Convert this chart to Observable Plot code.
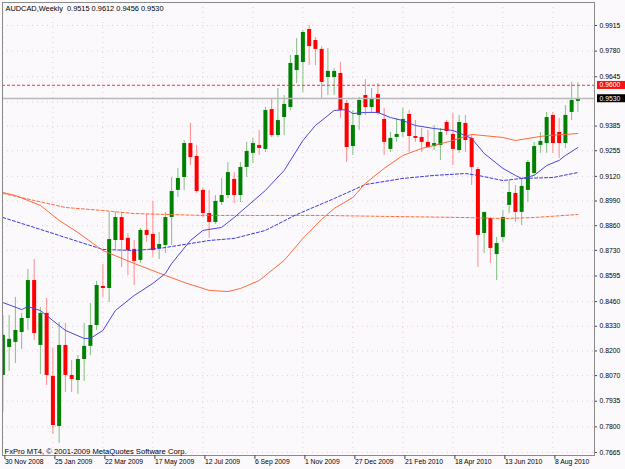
<!DOCTYPE html>
<html><head><meta charset="utf-8">
<script src="https://cdn.jsdelivr.net/npm/d3@7"></script>
<script src="https://cdn.jsdelivr.net/npm/@observablehq/plot@0.6"></script>
<style>
html,body{margin:0;padding:0;background:#fcf9fc;}
#chart{width:625px;height:469px;overflow:hidden;}
</style></head><body><div id="chart"></div>
<script>
// ---- data ----
const symbol = "AUDCAD";
const period = "Weekly";
const opens  = [0.8071,0.8218,0.8245,0.8297,0.8371,0.8571,0.8229,0.8398,0.8066,0.7802,0.8229,0.8071,0.8044,0.8155,0.8224,0.8334,0.8540,0.8529,0.8782,0.8903,0.8793,0.8735,0.8677,0.8835,0.8814,0.8740,0.8756,0.8903,0.9046,0.9114,0.9293,0.9225,0.9046,0.8924,0.8877,0.8982,0.9019,0.9104,0.9019,0.9167,0.9241,0.9283,0.9262,0.9472,0.9335,0.9430,0.9483,0.9678,0.9720,0.9894,0.9836,0.9789,0.9641,0.9641,0.9662,0.9504,0.9277,0.9441,0.9546,0.9483,0.9551,0.9420,0.9262,0.9325,0.9351,0.9446,0.9330,0.9325,0.9299,0.9277,0.9283,0.9404,0.9341,0.9256,0.9399,0.9320,0.9156,0.8819,0.8898,0.8708,0.8798,0.8967,0.9030,0.8930,0.9046,0.9135,0.9283,0.9293,0.9441,0.9351,0.9293,0.9457,0.9515];
const highs  = [0.8387,0.8387,0.8482,0.8398,0.8629,0.8682,0.8429,0.8477,0.8213,0.8350,0.8345,0.8150,0.8176,0.8345,0.8450,0.8566,0.8656,0.8930,0.8930,0.8930,0.8819,0.8782,0.8845,0.8919,0.8988,0.8824,0.8930,0.9114,0.9162,0.9309,0.9399,0.9283,0.9056,0.9046,0.9019,0.9109,0.9193,0.9140,0.9193,0.9299,0.9320,0.9362,0.9483,0.9530,0.9583,0.9546,0.9757,0.9846,0.9889,0.9915,0.9852,0.9804,0.9794,0.9688,0.9720,0.9520,0.9467,0.9536,0.9630,0.9583,0.9609,0.9478,0.9351,0.9425,0.9478,0.9467,0.9414,0.9372,0.9362,0.9388,0.9372,0.9414,0.9451,0.9441,0.9441,0.9335,0.9167,0.8930,0.8903,0.8798,0.8940,0.9098,0.9072,0.9109,0.9204,0.9299,0.9351,0.9457,0.9457,0.9425,0.9493,0.9615,0.9612];
const lows   = [0.7876,0.8092,0.8134,0.8208,0.8308,0.8255,0.8076,0.8018,0.7760,0.7713,0.7981,0.7981,0.7971,0.8039,0.8176,0.8308,0.8482,0.8455,0.8735,0.8640,0.8598,0.8545,0.8661,0.8772,0.8693,0.8682,0.8714,0.8756,0.9009,0.9046,0.9177,0.9030,0.8903,0.8793,0.8866,0.8967,0.9003,0.8977,0.8982,0.9114,0.9188,0.9230,0.9246,0.9325,0.9325,0.9335,0.9467,0.9609,0.9562,0.9704,0.9704,0.9530,0.9546,0.9546,0.9425,0.9193,0.9230,0.9362,0.9441,0.9457,0.9441,0.9230,0.9246,0.9299,0.9325,0.9246,0.9299,0.9246,0.9267,0.9256,0.9204,0.9335,0.9177,0.9241,0.9246,0.9072,0.8640,0.8714,0.8661,0.8571,0.8772,0.8924,0.8877,0.8861,0.8982,0.9125,0.9241,0.9241,0.9241,0.9214,0.9267,0.9414,0.9456];
const closes = [0.8282,0.8261,0.8308,0.8371,0.8571,0.8292,0.8398,0.8071,0.7807,0.8229,0.8071,0.8050,0.8155,0.8224,0.8334,0.8545,0.8529,0.8787,0.8903,0.8782,0.8729,0.8672,0.8835,0.8809,0.8729,0.8761,0.8903,0.9040,0.9109,0.9293,0.9219,0.9040,0.8924,0.8877,0.8988,0.9019,0.9140,0.9019,0.9167,0.9251,0.9293,0.9267,0.9467,0.9335,0.9414,0.9499,0.9715,0.9757,0.9878,0.9804,0.9789,0.9615,0.9673,0.9673,0.9467,0.9272,0.9388,0.9520,0.9483,0.9525,0.9451,0.9299,0.9320,0.9341,0.9420,0.9330,0.9320,0.9299,0.9272,0.9293,0.9351,0.9356,0.9262,0.9404,0.9309,0.9167,0.8809,0.8930,0.8740,0.8766,0.8903,0.9035,0.8930,0.9067,0.9193,0.9277,0.9304,0.9430,0.9293,0.9293,0.9441,0.9520,0.9530];

// moving averages (bar index, value)
const maFastIdx = [0,3,4,6,8,10,13,14,16,18,21,24,26,27,30,32,35,37,42,45,48,50,53,55,56,58,60,62,64,66,69,72,74,75,77,80,82,83,85,87,89,90,92];
const maFastVal = [0.8455,0.8418,0.8434,0.8413,0.8360,0.8308,0.8266,0.8266,0.8308,0.8413,0.8492,0.8556,0.8608,0.8661,0.8782,0.8835,0.8851,0.8903,0.9046,0.9151,0.9309,0.9388,0.9467,0.9472,0.9451,0.9457,0.9457,0.9430,0.9414,0.9388,0.9372,0.9362,0.9335,0.9320,0.9241,0.9162,0.9125,0.9109,0.9125,0.9177,0.9204,0.9230,0.9272];
const maMidIdx = [0,2,6,9,12,16,21,26,29,33,36,38,41,45,48,51,53,56,58,61,64,67,69,72,74,75,80,82,85,87,90,92];
const maMidVal = [0.9035,0.9019,0.8967,0.8888,0.8824,0.8729,0.8661,0.8598,0.8561,0.8519,0.8513,0.8529,0.8571,0.8677,0.8793,0.8893,0.8951,0.9009,0.9083,0.9162,0.9230,0.9267,0.9283,0.9309,0.9330,0.9341,0.9325,0.9309,0.9325,0.9335,0.9341,0.9346];
const maSlowIdx = [0,5,10,16,21,25,30,33,37,42,47,53,58,64,69,74,76,80,83,88,92];
const maSlowVal = [0.8903,0.8851,0.8798,0.8735,0.8729,0.8740,0.8766,0.8782,0.8793,0.8835,0.8919,0.9003,0.9077,0.9109,0.9125,0.9135,0.9125,0.9098,0.9109,0.9114,0.9140];
const maLongIdx = [0,5,10,16,21,32,51,74,80,85,92];
const maLongVal = [0.9030,0.8993,0.8956,0.8940,0.8924,0.8914,0.8914,0.8903,0.8898,0.8903,0.8919];

const alertLevel = 0.9600;
const bidLevel = 0.9530;

// price-axis labels (the one at 0.9512 sits under the bid box, so only its grid row shows)
const yTickValues = [0.9915,0.9780,0.9645,0.9385,0.9255,0.9120,0.8990,0.8860,0.8730,0.8595,0.8460,0.8330,0.8200,0.8070,0.7935,0.7800,0.7665];
const yHiddenGrid = [0.9512];
const xTickIdx = [0,8,16,24,32,40,48,56,64,72,80,88];
const xTickLabels = ["30 Nov 2008","25 Jan 2009","22 Mar 2009","17 May 2009","12 Jul 2009","6 Sep 2009","1 Nov 2009","27 Dec 2009","21 Feb 2010","18 Apr 2010","13 Jun 2010","8 Aug 2010"];
const footerText = "FxPro MT4, \u00a9 2001-2009 MetaQuotes Software Corp.";

// ---- build tables ----
const bars = opens.map((o,i)=>({i, o, h: highs[i], l: lows[i], c: closes[i]}));
const up = bars.filter(d=>d.c >= d.o);
const down = bars.filter(d=>d.c < d.o);
const toPts = (idx, val) => idx.map((i,k)=>({i, v: val[k]}));
const fmt = v => v.toFixed(4);
const last = bars[bars.length-1];
const titleText = `${symbol},${period}  ${fmt(last.o)} ${fmt(last.h)} ${fmt(last.l)} ${fmt(last.c)}`;
const priceLabels = [{p: alertLevel, bg: "#ff1010"}, {p: bidLevel, bg: "#000000"}];

const font = "'Liberation Sans', Arial, sans-serif";
const chart = Plot.plot({
  width: 625, height: 469,
  marginLeft: 2, marginRight: 31, marginTop: 2, marginBottom: 14,
  style: {background: "#fcf9fc", fontFamily: font, color: "#000"},
  x: {domain: [-0.064, 94.656], axis: null, label: null},
  y: {domain: [0.7649, 1.00362], axis: null, label: null},
  marks: [
    Plot.ruleY(yTickValues.concat(yHiddenGrid), {stroke: "#e6c9de", strokeDasharray: "1,4"}),
    Plot.ruleX(xTickIdx, {stroke: "#e6c9de", strokeDasharray: "1,4"}),
    // candles
    Plot.ruleX(up, {x: "i", y1: "l", y2: "h", stroke: "#7fc17f", strokeWidth: 1, clip: true}),
    Plot.ruleX(down, {x: "i", y1: "l", y2: "h", stroke: "#ff8a8a", strokeWidth: 1, clip: true}),
    Plot.ruleX(up, {x: "i", y1: "o", y2: "c", stroke: "#008000", strokeWidth: 4, clip: true}),
    Plot.ruleX(down, {x: "i", y1: "o", y2: "c", stroke: "#ff0000", strokeWidth: 4, clip: true}),
    // moving averages
    Plot.line(toPts(maLongIdx, maLongVal), {x: "i", y: "v", stroke: "#ff6a3a", strokeWidth: 1, strokeDasharray: "3,2", clip: true}),
    Plot.line(toPts(maSlowIdx, maSlowVal), {x: "i", y: "v", stroke: "#3a3ae0", strokeWidth: 1, strokeDasharray: "3,2", clip: true}),
    Plot.line(toPts(maMidIdx, maMidVal), {x: "i", y: "v", stroke: "#ff6a3a", strokeWidth: 1, clip: true}),
    Plot.line(toPts(maFastIdx, maFastVal), {x: "i", y: "v", stroke: "#4848d8", strokeWidth: 1, clip: true}),
    // levels
    Plot.ruleY([bidLevel], {stroke: "#b8b8b8", strokeWidth: 1.5}),
    Plot.ruleY([alertLevel], {stroke: "#ff3030", strokeDasharray: "3,2"}),
    Plot.frame({stroke: "#8a8a8a"}),
    // axes
    Plot.axisY(yTickValues, {anchor: "right", label: null, tickSize: 2, tickPadding: 3, tickFormat: fmt, fontSize: 6.8, stroke: "#444"}),
    Plot.axisX(xTickIdx, {anchor: "bottom", label: null, tickSize: 4, tickPadding: 0, tickFormat: d => xTickLabels[xTickIdx.indexOf(d)], textAnchor: "start", dx: 2, fontSize: 6.8, stroke: "#444"}),
    // price labels
    Plot.text(priceLabels, {y: "p", text: d => fmt(d.p), frameAnchor: "right", dx: 5, textAnchor: "start", fill: "white", fontSize: 6.8}),
    // texts
    Plot.text([titleText], {frameAnchor: "top-left", dx: 3, dy: 3, textAnchor: "start", lineAnchor: "top", fontSize: 7.4, fill: "#000"}),
    Plot.text([footerText], {frameAnchor: "bottom-left", dx: 2, dy: -2, textAnchor: "start", lineAnchor: "bottom", fontSize: 7.6, fill: "#000"})
  ]
});
document.getElementById("chart").append(chart);
const bgByText = new Map(priceLabels.map(d => [fmt(d.p), d.bg]));
d3.select(chart).selectAll("text")
  .filter(function(){ return bgByText.has(this.textContent); })
  .each(function(){
    const bb = this.getBBox();
    const parent = this.parentNode;
    const rect = document.createElementNS("http://www.w3.org/2000/svg", "rect");
    rect.setAttribute("x", bb.x - 2.5);
    rect.setAttribute("y", bb.y - 0.5);
    rect.setAttribute("width", 625 - bb.x + 2.5);
    rect.setAttribute("height", bb.height + 1);
    rect.setAttribute("fill", bgByText.get(this.textContent));
    const tr = this.getAttribute("transform");
    if (tr) rect.setAttribute("transform", tr);
    parent.insertBefore(rect, this);
  });
</script></body></html>
